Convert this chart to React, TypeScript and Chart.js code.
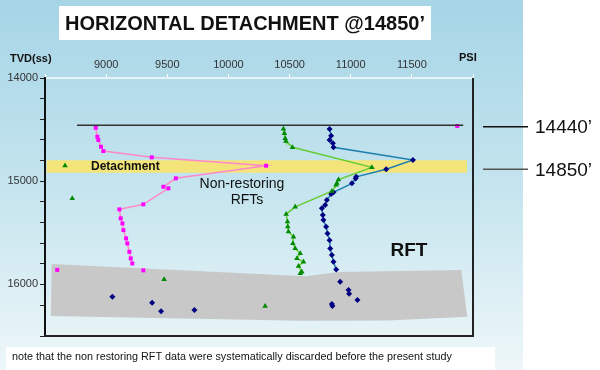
import React, { useEffect, useRef } from "react";
import { Chart, registerables } from "chart.js";

Chart.register(...registerables);

// ---- data (PSI, TVD ft) ----
const pinkPsi = [8915, 8928, 8936, 8958, 8977, 9373, 10308, 9570, 9468, 9509, 9304, 9108, 9119, 9133, 9141, 9163, 9173, 9190, 9201, 9214];
const pinkDepth = [14482, 14569, 14601, 14666, 14708, 14769, 14850, 14972, 15054, 15069, 15224, 15273, 15360, 15409, 15474, 15554, 15603, 15684, 15748, 15797];

const greenPsi = [10450, 10458, 10464, 10470, 10524, 11173, 10900, 10887, 10881, 10846, 10546, 10472, 10483, 10485, 10491, 10532, 10527, 10546, 10587, 10560, 10614, 10573, 10600, 10587];
const greenDepth = [14494, 14536, 14585, 14611, 14672, 14866, 14985, 15020, 15037, 15096, 15248, 15319, 15393, 15440, 15490, 15539, 15603, 15651, 15700, 15748, 15781, 15823, 15878, 15893];

const bluePsi = [10827, 10840, 10827, 10854, 10859, 11509, 11290, 11045, 11040, 11010, 10859, 10840, 10805, 10791, 10764, 10772, 10777, 10799, 10810, 10827, 10832, 10846, 10859, 10881];
const blueDepth = [14494, 14559, 14601, 14633, 14672, 14795, 14885, 14957, 14975, 15021, 15108, 15125, 15183, 15231, 15263, 15328, 15377, 15442, 15506, 15571, 15651, 15716, 15781, 15855];

const pinkLoosePsi = [8600, 9304, 11871];
const pinkLooseDepth = [15859, 15864, 14465];
const greenLoosePsi = [8664, 8723, 9474, 10300];
const greenLooseDepth = [14850, 15166, 15952, 16211];
const blueLoosePsi = [9051, 9376, 9449, 9722, 10914, 10982, 10987, 11055, 10846, 10850];
const blueLooseDepth = [16120, 16178, 16259, 16249, 15975, 16055, 16090, 16152, 16191, 16210];

const markerDepth = 14458;
const markerPsiRange = [8762, 11920];
const detachTop = 14797;
const detachBottom = 14918;
const detachPsiRange = [8514, 11951];
const rftZonePsi = [8555, 10630, 10900, 11904, 11953, 11300, 10590, 8547];
const rftZoneDepth = [15803, 15920, 15880, 15861, 16314, 16350, 16353, 16305];

const xMin = 8500, xMax = 12000, xStep = 500;
const yMin = 14000, yMax = 16500, yStep = 200, yLabelStep = 1000;

const title = "HORIZONTAL DETACHMENT @14850\u2019";
const note = "note that the non restoring RFT data were systematically discarded before the present study";
const FONT = "'Liberation Sans', Arial, sans-serif";

const zip = (xs: number[], ys: number[]) => xs.map((x, i) => ({ x, y: ys[i] }));

const decor = {
  id: "decor",
  beforeDraw(chart: any) {
    const ctx = chart.ctx;
    ctx.save();
    ctx.fillStyle = "#ffffff";
    ctx.fillRect(0, 0, chart.width, chart.height);
    const g = ctx.createLinearGradient(0, 0, 0, chart.height);
    g.addColorStop(0, "#a6d5e6");
    g.addColorStop(0.5, "#c4e4ee");
    g.addColorStop(1, "#eef7f9");
    ctx.fillStyle = g;
    ctx.fillRect(0, 0, 523, chart.height);
    ctx.restore();
  },
  beforeDatasetsDraw(chart: any) {
    const { ctx, scales } = chart;
    const x = scales.x, y = scales.y;
    ctx.save();
    // RFT zone
    ctx.fillStyle = "#c8c8c8";
    ctx.beginPath();
    rftZonePsi.forEach((p, i) => {
      const px = x.getPixelForValue(p), py = y.getPixelForValue(rftZoneDepth[i]);
      if (i === 0) ctx.moveTo(px, py); else ctx.lineTo(px, py);
    });
    ctx.closePath();
    ctx.fill();
    // detachment band
    ctx.fillStyle = "#f3e57a";
    const x0 = x.getPixelForValue(detachPsiRange[0]), x1 = x.getPixelForValue(detachPsiRange[1]);
    const y0 = y.getPixelForValue(detachTop), y1 = y.getPixelForValue(detachBottom);
    ctx.fillRect(x0, y0, x1 - x0, y1 - y0);
    ctx.restore();
  },
  afterDraw(chart: any) {
    const { ctx, chartArea } = chart;
    ctx.save();
    // right & bottom frame
    ctx.strokeStyle = "#222";
    ctx.lineWidth = 2;
    ctx.beginPath();
    ctx.moveTo(chartArea.left, chartArea.bottom);
    ctx.lineTo(chartArea.right, chartArea.bottom);
    ctx.lineTo(chartArea.right, chartArea.top);
    ctx.stroke();
    // title box
    ctx.fillStyle = "#ffffff";
    ctx.fillRect(59, 6, 372, 34);
    ctx.fillStyle = "#111";
    ctx.font = `bold 20px ${FONT}`;
    ctx.textAlign = "center";
    ctx.textBaseline = "middle";
    ctx.fillText(title, 245, 24);
    // axis titles
    ctx.font = `bold 11px ${FONT}`;
    ctx.textAlign = "left";
    ctx.fillText("TVD(ss)", 10, 59);
    ctx.fillText("PSI", 459, 58);
    // in-plot labels
    ctx.font = `bold 12px ${FONT}`;
    ctx.fillText("Detachment", 91, 167);
    ctx.font = `14px ${FONT}`;
    ctx.textAlign = "center";
    ctx.fillText("Non-restoring", 242, 184);
    ctx.fillText("RFTs", 247, 200);
    ctx.font = `bold 19px ${FONT}`;
    ctx.fillText("RFT", 409, 251);
    // right-hand depth markers
    const marks: [string, number, string][] = [["14440\u2019", 126.7, "#111"], ["14850\u2019", 169.3, "#555"]];
    marks.forEach(([t, py, c]) => {
      ctx.strokeStyle = c;
      ctx.lineWidth = 1.5;
      ctx.beginPath();
      ctx.moveTo(483, py);
      ctx.lineTo(528, py);
      ctx.stroke();
      ctx.fillStyle = "#111";
      ctx.font = `19px ${FONT}`;
      ctx.textAlign = "left";
      ctx.fillText(t, 535, py + 1);
    });
    // note
    ctx.fillStyle = "#ffffff";
    ctx.fillRect(6, 347, 489, 23);
    ctx.fillStyle = "#111";
    ctx.font = `10.8px ${FONT}`;
    ctx.textAlign = "left";
    ctx.fillText(note, 12, 357);
    ctx.restore();
  },
};

export default function App() {
  const ref = useRef<HTMLCanvasElement>(null);
  useEffect(() => {
    document.body.style.margin = "0";
    const font = { family: FONT, size: 11 };
    const chart = new Chart(ref.current as HTMLCanvasElement, {
      type: "scatter",
      data: {
        datasets: [
          { data: zip(markerPsiRange, [markerDepth, markerDepth]), showLine: true, borderColor: "#333", borderWidth: 1.5, pointRadius: 0 },
          { data: zip(pinkPsi, pinkDepth), showLine: true, borderColor: "#ff88c8", borderWidth: 1.5, pointStyle: "rect", pointRadius: 2.8, backgroundColor: "#ff00ff", pointBorderColor: "#ff00ff", pointBorderWidth: 0 },
          { data: zip(greenPsi, greenDepth), showLine: true, borderColor: "#66cc33", borderWidth: 1.5, pointStyle: "triangle", pointRadius: 3.2, backgroundColor: "#008a00", pointBorderColor: "#008a00", pointBorderWidth: 0 },
          { data: zip(bluePsi, blueDepth), showLine: true, borderColor: "#1f7fb0", borderWidth: 1.5, pointStyle: "rectRot", pointRadius: 3, backgroundColor: "#000080", pointBorderColor: "#000080", pointBorderWidth: 0 },
          { data: zip(pinkLoosePsi, pinkLooseDepth), showLine: false, pointStyle: "rect", pointRadius: 2.8, backgroundColor: "#ff00ff", borderColor: "#ff00ff", pointBorderWidth: 0 },
          { data: zip(greenLoosePsi, greenLooseDepth), showLine: false, pointStyle: "triangle", pointRadius: 3.2, backgroundColor: "#008a00", borderColor: "#008a00", pointBorderWidth: 0 },
          { data: zip(blueLoosePsi, blueLooseDepth), showLine: false, pointStyle: "rectRot", pointRadius: 3, backgroundColor: "#000080", borderColor: "#000080", pointBorderWidth: 0 },
        ],
      },
      options: {
        responsive: false,
        animation: false,
        layout: { padding: { left: 0, top: 0, right: 127, bottom: 34 } },
        plugins: { legend: { display: false }, tooltip: { enabled: false }, title: { display: false } },
        scales: {
          x: {
            type: "linear",
            position: "top",
            min: xMin,
            max: xMax,
            ticks: {
              stepSize: xStep,
              autoSkip: false,
              maxRotation: 0,
              padding: 2,
              color: "#333",
              font,
              callback: (v: any) => (v > xMin && v < xMax ? String(v) : ""),
            },
            grid: { drawOnChartArea: false, color: "#ffffff", tickLength: 4 },
            border: { color: "#e6f3f7", width: 2 },
            afterFit: (s: any) => { s.height = 78; },
          },
          y: {
            type: "linear",
            reverse: true,
            min: yMin,
            max: yMax,
            ticks: {
              stepSize: yStep,
              autoSkip: false,
              padding: 2,
              color: "#333",
              font,
              callback: (v: any) => (v % yLabelStep === 0 && v < yMax ? String(v) : ""),
            },
            grid: { drawOnChartArea: false, color: "#222", tickLength: 5 },
            border: { color: "#111", width: 2 },
            afterFit: (s: any) => { s.width = 45; },
          },
        },
      } as any,
      plugins: [decor],
    });
    return () => chart.destroy();
  }, []);
  return (
    <div style={{ position: "fixed", left: 0, top: 0, width: 600, height: 370 }}>
      <canvas ref={ref} width={600} height={370} />
    </div>
  );
}
